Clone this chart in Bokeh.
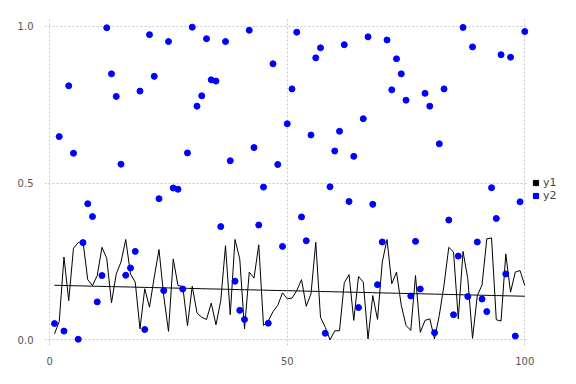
import numpy as np
from bokeh.plotting import figure
from bokeh.models import (Range1d, Legend, LegendItem, FixedTicker,
                          ColumnDataSource, PrintfTickFormatter)
from bokeh.embed import file_html
from bokeh.resources import INLINE

x = list(range(1, 101))
y1 = [0.019, 0.058, 0.264, 0.125, 0.292, 0.31, 0.314, 0.192, 0.173, 0.205,
      0.295, 0.26, 0.118, 0.21, 0.248, 0.32, 0.21, 0.184, 0.035, 0.163,
      0.104, 0.20, 0.288, 0.14, 0.027, 0.258, 0.173, 0.17, 0.045, 0.171,
      0.086, 0.072, 0.065, 0.117, 0.048, 0.125, 0.30, 0.08, 0.32, 0.258,
      0.035, 0.216, 0.197, 0.303, 0.046, 0.06, 0.09, 0.11, 0.15, 0.131,
      0.133, 0.157, 0.192, 0.107, 0.147, 0.311, 0.072, 0.04, 0.0, 0.029,
      0.029, 0.182, 0.208, 0.062, 0.202, 0.184, 0.003, 0.141, 0.065, 0.248,
      0.32, 0.179, 0.216, 0.11, 0.046, 0.03, 0.205, 0.024, 0.062, 0.067,
      0.003, 0.078, 0.175, 0.295, 0.28, 0.067, 0.282, 0.195, 0.005, 0.141,
      0.175, 0.322, 0.325, 0.064, 0.06, 0.274, 0.152, 0.216, 0.221, 0.173]
y2 = [0.052, 0.648, 0.028, 0.81, 0.595, 0.002, 0.31, 0.434, 0.393, 0.121,
      0.205, 0.995, 0.848, 0.776, 0.56, 0.206, 0.229, 0.282, 0.793, 0.033,
      0.973, 0.84, 0.45, 0.157, 0.951, 0.484, 0.48, 0.162, 0.596, 0.997,
      0.745, 0.778, 0.96, 0.829, 0.825, 0.361, 0.951, 0.571, 0.187, 0.094,
      0.065, 0.987, 0.613, 0.366, 0.487, 0.053, 0.88, 0.559, 0.298, 0.689,
      0.8, 0.981, 0.392, 0.316, 0.653, 0.899, 0.931, 0.021, 0.488, 0.602,
      0.665, 0.941, 0.441, 0.585, 0.103, 0.705, 0.966, 0.432, 0.176, 0.312,
      0.956, 0.797, 0.896, 0.848, 0.764, 0.14, 0.314, 0.162, 0.786, 0.745,
      0.023, 0.625, 0.8, 0.382, 0.08, 0.267, 0.996, 0.138, 0.934, 0.312,
      0.13, 0.09, 0.485, 0.387, 0.909, 0.21, 0.901, 0.012, 0.44, 0.983]
x_ticks = [0, 50, 100]
y_ticks = [0.0, 0.5, 1.0]
labels = ["y1", "y2"]
colors = ["black", "blue"]

p = figure(frame_width=484, frame_height=327,
           x_range=Range1d(-1.1, 100.78), y_range=Range1d(-0.018, 1.0245),
           output_backend="svg", toolbar_location=None,
           min_border_left=44, min_border_top=18, min_border_bottom=22,
           min_border_right=4)
p.outline_line_color = None
p.background_fill_color = "white"

for ax in (p.xaxis, p.yaxis):
    ax.axis_line_color = None
    ax.major_tick_line_color = None
    ax.minor_tick_line_color = None
    ax.major_label_text_font = "DejaVu Sans"
    ax.major_label_text_font_size = "10px"
    ax.major_label_text_color = "#555555"
    ax.major_label_standoff = 5
p.xaxis.ticker = FixedTicker(ticks=x_ticks)
p.yaxis.ticker = FixedTicker(ticks=y_ticks)
p.yaxis.formatter = PrintfTickFormatter(format="%.1f")
for g in (p.xgrid, p.ygrid):
    g.grid_line_color = "#c8c8dc"
    g.grid_line_dash = "2 2"
    g.grid_line_width = 1
p.xgrid.ticker = FixedTicker(ticks=x_ticks)
p.ygrid.ticker = FixedTicker(ticks=y_ticks)

xa = np.array(x, dtype=float)
coef = np.polyfit(xa, np.array(y1), 1)
p.line(xa, np.polyval(coef, xa), line_color="black", line_width=1)
p.line(x, y1, line_color="black", line_width=1)
p.scatter(x, y2, marker="circle", size=6, fill_color="blue", line_color="blue")

# legend-only proxies (no visible data)
proxy = ColumnDataSource(data=dict(x=[np.nan], y=[np.nan]))
r1 = p.scatter("x", "y", source=proxy, marker="square",
               fill_color=colors[0], line_color=colors[0])
r2 = p.scatter("x", "y", source=proxy, marker="square",
               fill_color=colors[1], line_color=colors[1])
legend = Legend(items=[LegendItem(label=labels[0], renderers=[r1]),
                       LegendItem(label=labels[1], renderers=[r2])],
                location=(0, 143), margin=0, padding=3, spacing=-1,
                glyph_width=15, glyph_height=13, label_height=12,
                label_standoff=0, border_line_color=None,
                background_fill_alpha=0,
                label_text_font="DejaVu Sans", label_text_font_size="11px",
                label_text_color="#444444")
p.add_layout(legend, "right")

open("out.html", "w").write(file_html(p, INLINE))
